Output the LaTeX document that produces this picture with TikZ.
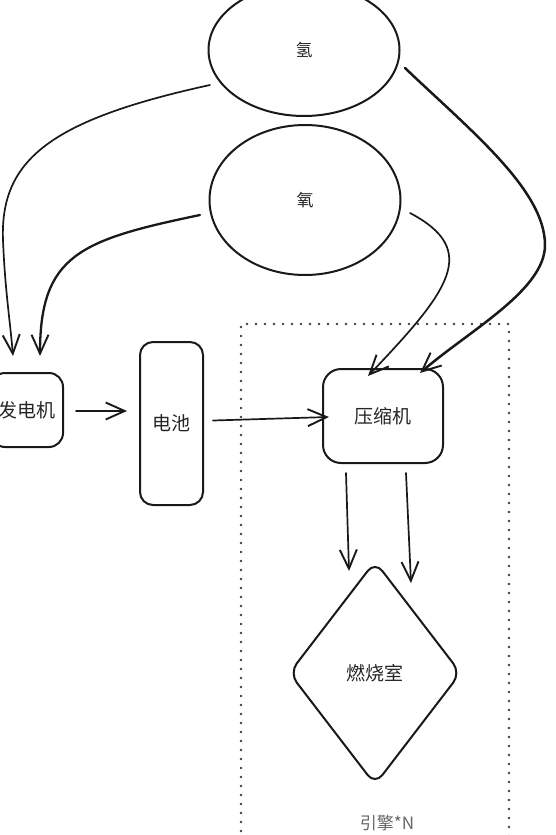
\documentclass[tikz,border=0pt]{standalone}
\usepackage{fontspec}
\setmainfont{Noto Sans CJK SC}
\usetikzlibrary{shapes.geometric,arrows.meta,calc}
\begin{document}
\begin{tikzpicture}[x=1pt,y=-1pt,
  every node/.style={font=\fontsize{19}{21}\selectfont, text=black!85},
  ln/.style={draw=black!90, line width=2pt},
  ar/.style={draw=black!90, line width=1.7pt, line cap=round,
    -{Straight Barb[length=19pt,width=17pt,line width=1.9pt]}},
  roundbox/.style={ln, rectangle, rounded corners=14pt, inner sep=0pt},
  oval/.style={ln, ellipse, inner sep=0pt},
  frame/.style={draw=black!75, line width=2.6pt, line cap=round, dash pattern=on 0pt off 9pt}]
\useasboundingbox (0,0) rectangle (555,835);

% nodes
\node[oval, minimum width=191pt, minimum height=132pt, font=\fontsize{17}{19}\selectfont] (e1) at (304,50) {氢};
\node[oval, minimum width=191pt, minimum height=150pt, font=\fontsize{17}{19}\selectfont] (e2) at (305,200) {氧};
\node[roundbox, minimum width=72pt, minimum height=74pt] (gen) at (27,410) {发电机};
\node[roundbox, minimum width=63pt, minimum height=163pt, rounded corners=13pt] (bat) at (171.5,423.5) {电池};
\node[roundbox, minimum width=120pt, minimum height=94pt, rounded corners=18pt] (comp) at (383,416) {压缩机};
\node[ln, diamond, minimum width=172pt, minimum height=224pt, rounded corners=12pt, inner sep=0pt] (comb) at (375,673) {燃烧室};
\node[text=black!60, font=\fontsize{17}{19}\selectfont] (lab) at (387,823) {引擎*N};

% dotted engine frame
\draw[frame] (241,840) -- (241,324) -- (509,324) -- (509,840);

% connectors
\draw[ar] ($(e1.center)+(-94,35)$) .. controls (50,120) and (0,160) .. (3,240)
   .. controls (5,290) and (10,320) .. ($(gen.north)+(-14,-16)$);
\draw[ar, line width=2.3pt] ($(e2.center)+(-105,15)$) .. controls (80,240) and (40,255) .. ($(gen.north)+(13,-16)$);
\draw[ar] ($(gen.east)+(12,1)$) -- ($(bat.west)+(-12,-12.5)$);
\draw[ar] ($(bat.east)+(9,-3)$) -- ($(comp.west)+(7,1)$);
\draw[ar] ($(e2.center)+(105,13)$) .. controls (480,250) and (450,290) .. ($(comp.north)+(-15,8)$);
\draw[ar, line width=2.5pt] ($(e1.center)+(101,18)$) .. controls (470,130) and (545,190) .. (545,245)
   .. controls (545,290) and (470,330) .. ($(comp.north)+(37,5)$);
\draw[ar] ($(comp.south)+(-37,9)$) -- ($(comb.north)+(-26,11)$);
\draw[ar] ($(comp.south)+(23,9)$) -- ($(comb.north)+(36,23)$);
\end{tikzpicture}
\end{document}
